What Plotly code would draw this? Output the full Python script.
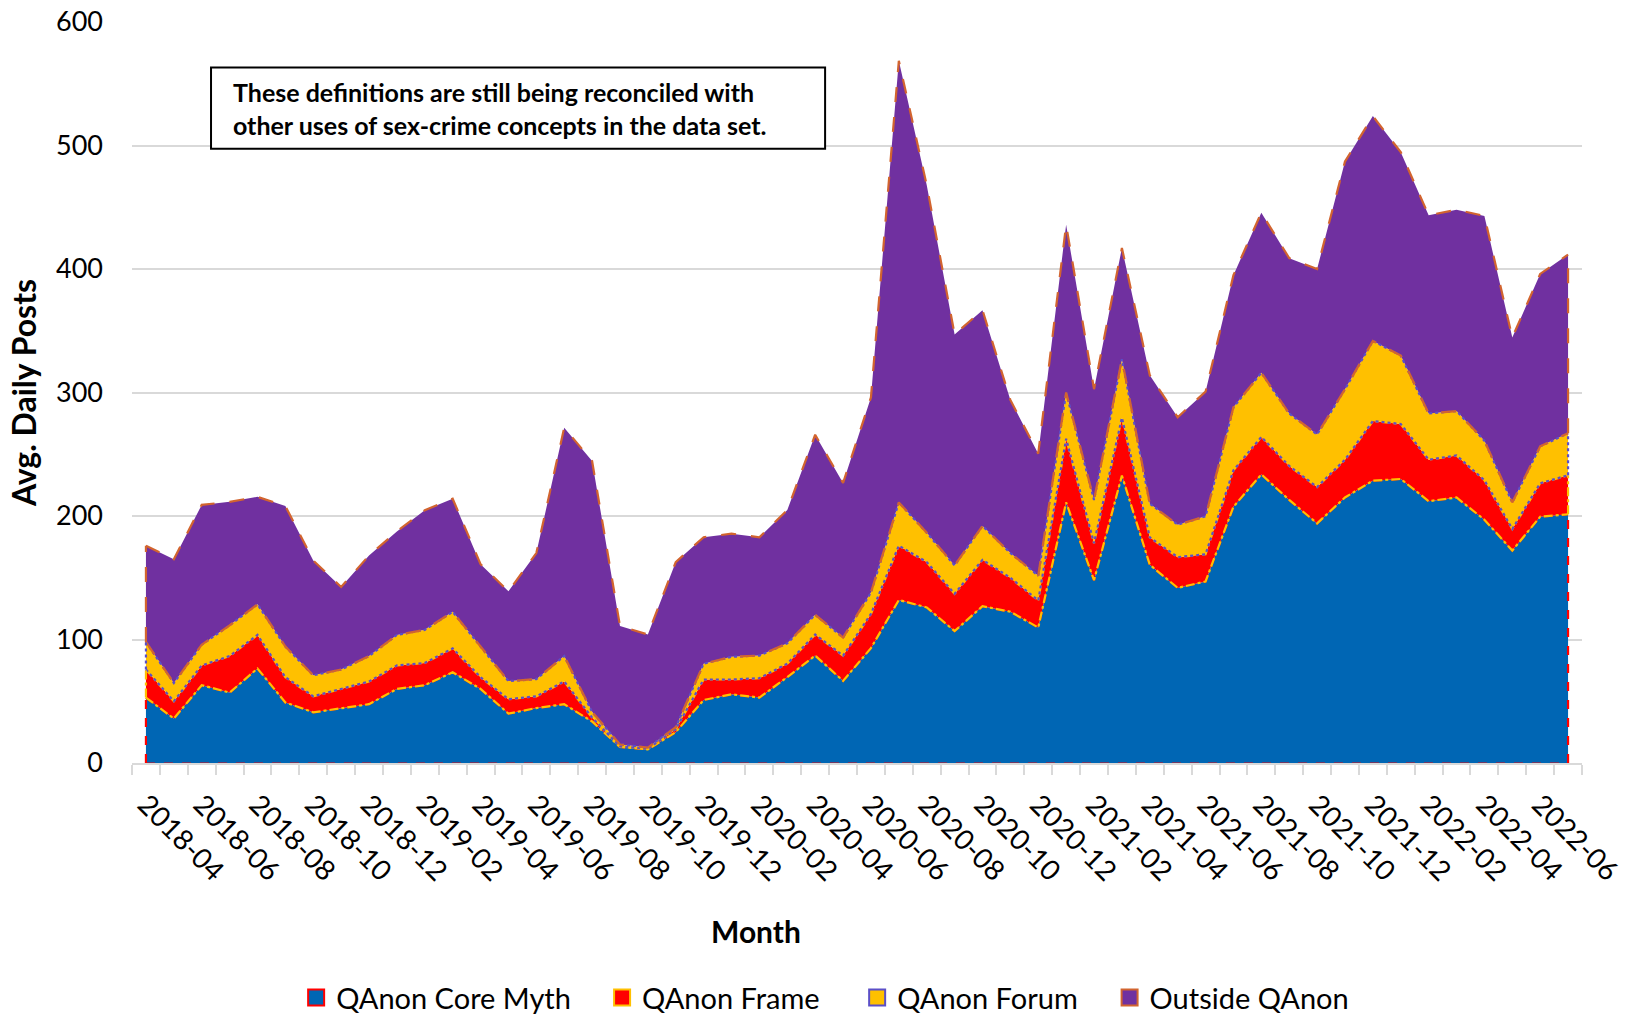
import plotly.graph_objects as go

months = ['2018-04', '2018-05', '2018-06', '2018-07', '2018-08', '2018-09', '2018-10', '2018-11', '2018-12',
          '2019-01', '2019-02', '2019-03', '2019-04', '2019-05', '2019-06', '2019-07', '2019-08', '2019-09',
          '2019-10', '2019-11', '2019-12', '2020-01', '2020-02', '2020-03', '2020-04', '2020-05', '2020-06',
          '2020-07', '2020-08', '2020-09', '2020-10', '2020-11', '2020-12', '2021-01', '2021-02', '2021-03',
          '2021-04', '2021-05', '2021-06', '2021-07', '2021-08', '2021-09', '2021-10', '2021-11', '2021-12',
          '2022-01', '2022-02', '2022-03', '2022-04', '2022-05', '2022-06', '2022-07']

core_myth = [53, 36, 63, 57, 76.5, 49, 41, 44.5, 47.6, 60, 63, 73.5, 60, 40, 44.5, 47.6, 33.6, 13, 11, 25,
             51, 55.6, 53, 69.5, 87, 66.5, 93, 132, 126, 106.8, 127, 122.5, 109.7, 211, 148, 232.7,
             160.5, 141.8, 147, 207.5, 233.7, 213, 194, 215, 228.6, 230, 212, 215, 197, 172, 199.4, 201.4]
frame = [22.7, 14, 16, 29.6, 27.2, 20.5, 13, 15.5, 18.4, 19, 18, 19.3, 9.5, 11.7, 9.5, 18.4, 3.2, 0.4, 0.5, 2.4,
         16.6, 12, 15.7, 10.9, 17, 20.5, 27.7, 44, 36.7, 30.2, 37.5, 27.5, 21.9, 51.5, 30, 46.9,
         22.2, 24.9, 22, 29.5, 30.3, 27.5, 29.5, 30.6, 48.3, 44.5, 33.6, 34, 32, 17.5, 27.1, 31.6]
forum = [22.3, 14.8, 16.8, 24.9, 24.8, 24.8, 17, 15.7, 20.6, 24.7, 26.8, 29.6, 24.8, 14.6, 13.9, 20.6, 4.6, 1.6, 1, 1.6,
         12.8, 18.4, 18.3, 16.5, 16, 14.6, 17.3, 35, 23.8, 23, 27.5, 20, 20.1, 37.5, 35, 47.4,
         27.3, 26.3, 30.7, 51, 52, 42.5, 42.5, 57.1, 64.9, 55.5, 37.4, 36, 32, 21.5, 29.9, 34]
outside = [78, 100.2, 113.2, 100, 87, 113.7, 93, 66.8, 81.4, 83.8, 96.9, 91.6, 66.7, 72.7, 102.1, 184.9, 203.1, 96, 91.5, 133.7,
           102.4, 99.7, 95.8, 107.9, 145.8, 125.1, 158, 357.6, 281.5, 187, 174.7, 124, 98.8, 135.8, 89.7, 90,
           104, 87, 101, 107, 129.6, 125.8, 134, 184.3, 182, 164.6, 160.5, 163, 182, 133.5, 139.6, 144.7]

series_names = ['QAnon Core Myth', 'QAnon Frame', 'QAnon Forum', 'Outside QAnon']
fill_colors = ['#0066B4', '#FF0000', '#FFC000', '#7030A0']
border_colors = ['#FF0000', '#FFC000', '#5B4FC7', '#D2642F']
border_dash = ['dash', 'dashdot', 'dot', 'longdash']
legend_ids = ['legend', 'legend2', 'legend3', 'legend4']
legend_x = [0.1132, 0.3242, 0.5001, 0.6742]
x_pos = list(range(len(months)))
label_idx = x_pos[::2]
all_series = [core_myth, frame, forum, outside]

FONT = 'Lato'
fig = go.Figure()
for name, vals, fc, bc, bd in zip(series_names, all_series, fill_colors, border_colors, border_dash):
    fig.add_trace(go.Scatter(x=x_pos, y=vals, name=name, stackgroup='areas', mode='lines',
                             fillcolor=fc, showlegend=False,
                             line=dict(color=bc, width=2.2, dash=bd)))

# boundary outlines drawn by the next series' border (as the stacked areas overlap)
for vals, bc, bd in zip(all_series[:3], border_colors[1:], border_dash[1:]):
    fig.add_trace(go.Scatter(x=x_pos, y=vals, stackgroup='outlines', fill='none', mode='lines',
                             showlegend=False, hoverinfo='skip',
                             line=dict(color=bc, width=2.2, dash=bd)))

# outline of each area at the two ends (left and right edges) and the base of the first area
first, last = x_pos[0], x_pos[-1]
lo_first, lo_last = 0, 0
for vals, bc, bd in zip(all_series, border_colors, border_dash):
    hi_first, hi_last = lo_first + vals[0], lo_last + vals[-1]
    fig.add_trace(go.Scatter(x=[first, first, None, last, last],
                             y=[lo_first, hi_first, None, lo_last, hi_last],
                             mode='lines', showlegend=False, hoverinfo='skip', cliponaxis=False,
                             line=dict(color=bc, width=2.2, dash=bd)))
    lo_first, lo_last = hi_first, hi_last
fig.add_trace(go.Scatter(x=[first, last], y=[0, 0], mode='lines', showlegend=False, hoverinfo='skip',
                         cliponaxis=False, opacity=0.45,
                         line=dict(color=border_colors[0], width=2, dash='dash')))

# legend entries (square swatches)
for name, fc, bc, lid in zip(series_names, fill_colors, border_colors, legend_ids):
    fig.add_trace(go.Scatter(x=[None], y=[None], name=name, mode='markers', legend=lid,
                             marker=dict(symbol='square', size=16, color=fc,
                                         line=dict(color=bc, width=2))))

legend_common = dict(orientation='h', xref='paper', yref='container', y=0.02, yanchor='middle',
                     xanchor='left', font=dict(family=FONT, size=29, color='#000000'),
                     bgcolor='rgba(0,0,0,0)', borderwidth=0)

fig.update_layout(
    width=1632, height=1018,
    margin=dict(l=132, r=50, t=22, b=255, autoexpand=False),
    paper_bgcolor='white', plot_bgcolor='white',
    font=dict(family=FONT, size=26, color='#000000'),
    legend=dict(x=legend_x[0], **legend_common),
    legend2=dict(x=legend_x[1], **legend_common),
    legend3=dict(x=legend_x[2], **legend_common),
    legend4=dict(x=legend_x[3], **legend_common),
    xaxis=dict(range=[-0.5, len(months) - 0.5], tickmode='array', tickvals=label_idx,
               ticktext=[months[i] for i in label_idx], tickangle=45, ticks='',
               showgrid=False, showline=True, linecolor='#D9D9D9', linewidth=2,
               tickfont=dict(family=FONT, size=28, color='#000000'), ticklabelstandoff=12,
               minor=dict(tickmode='linear', tick0=-0.5, dtick=1, ticks='outside', ticklen=10,
                          tickcolor='#D9D9D9', tickwidth=2, showgrid=False),
               zeroline=False, automargin=False),
    yaxis=dict(range=[0, 600], dtick=100, showgrid=True, gridcolor='#D9D9D9', gridwidth=2,
               zeroline=False, showline=False, ticks='', ticklabelstandoff=28,
               tickfont=dict(family=FONT, size=27, color='#000000'), automargin=False,
               title=dict(text='<b>Avg. Daily Posts</b>', font=dict(family=FONT, size=32, color='#000000'),
                          standoff=9)),
    shapes=[dict(type='rect', xref='paper', yref='paper', x0=0.0545, x1=0.478, y0=0.829, y1=0.9385,
                 line=dict(color='#000000', width=2), fillcolor='white', layer='above')],
    annotations=[
        dict(text='<b>Month</b>', xref='paper', yref='paper', x=0.43, y=-0.2267, xanchor='center',
             yanchor='middle', showarrow=False, font=dict(family=FONT, size=30, color='#000000')),
        dict(text='<b>These definitions are still being reconciled with<br>other uses of sex-crime concepts in the data set.</b>',
             xref='paper', yref='paper', x=0.0683, y=0.883, xanchor='left', yanchor='middle',
             showarrow=False, align='left', font=dict(family=FONT, size=25, color='#000000')),
    ],
)

fig.write_html('out.html', config={'displayModeBar': False},
               post_script="document.body.style.margin='0px';")
